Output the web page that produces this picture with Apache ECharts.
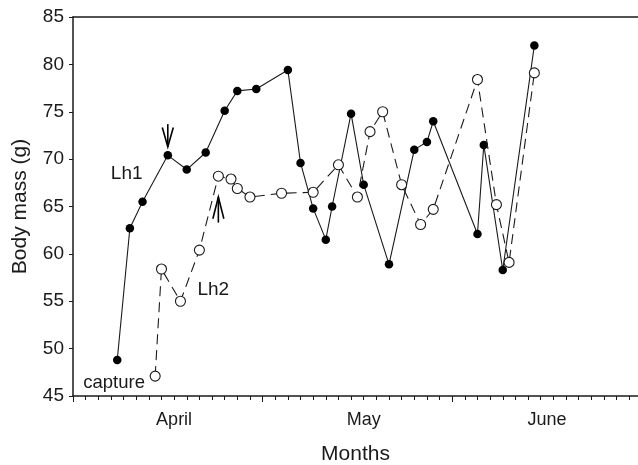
<!DOCTYPE html>
<html>
<head>
<meta charset="utf-8">
<script src="https://cdn.jsdelivr.net/npm/echarts@6/dist/echarts.min.js"></script>
<style>html,body{margin:0;padding:0;background:#fff}#c{width:638px;height:465px}</style>
</head>
<body>
<div id="c"></div>
<script>
// Days since 1 April (30-day month scale)
const lh1Days = [7, 9, 11, 15, 18, 21, 24, 26, 29, 34, 36, 38, 40, 41, 44, 46, 50, 54, 56, 57, 64, 65, 68, 73];
const lh1Mass = [48.8, 62.7, 65.5, 70.4, 68.9, 70.7, 75.1, 77.2, 77.4, 79.4, 69.6, 64.8, 61.5, 65.0, 74.8, 67.3, 58.9, 71.0, 71.8, 74.0, 62.1, 71.5, 58.3, 82.0];
const lh2Days = [13, 14, 17, 20, 23, 25, 26, 28, 33, 38, 42, 45, 47, 49, 52, 55, 57, 64, 67, 69, 73];
const lh2Mass = [47.1, 58.4, 55.0, 60.4, 68.2, 67.9, 66.9, 66.0, 66.4, 66.5, 69.4, 66.0, 72.9, 75.0, 67.3, 63.1, 64.7, 78.4, 65.2, 59.1, 79.1];
const monthLabels = ['April', 'May', 'June'];
const monthLabelDays = [16, 46, 75];
const yTicks = [45, 50, 55, 60, 65, 70, 75, 80, 85];
const annoText = ['Lh1', 'Lh2', 'capture'];
const annoX = [8.5, 22.2, 6.5];
const annoY = [68.5, 56.2, 46.4];
// arrows: x, tip value, tail value
const arrowX = [15, 23];
const arrowTip = [71.3, 66.0];
const arrowTail = [73.7, 63.3];

const FONT = "'Liberation Sans', Arial, Helvetica, sans-serif";
const INK = '#1a1a1a';
const X_MAX = 89.4;

const chart = echarts.init(document.getElementById('c'), null, {renderer: 'canvas'});
const option = {
  animation: false,
  backgroundColor: '#fff',
  grid: {left: 73, right: 0, top: 17, bottom: 69, show: false, containLabel: false, outerBoundsMode: 'none'},
  xAxis: [{
    type: 'value', min: 0, max: X_MAX, interval: 30, position: 'bottom',
    name: 'Months', nameLocation: 'middle', nameGap: 48,
    nameTextStyle: {fontFamily: FONT, fontSize: 21, color: INK},
    axisLine: {lineStyle: {color: INK, width: 1.5}},
    axisTick: {show: true, inside: false, length: 6, lineStyle: {color: INK, width: 1}},
    minorTick: {show: true, splitNumber: 15, length: 4, lineStyle: {color: INK, width: 1}},
    axisLabel: {show: false},
    splitLine: {show: false}, minorSplitLine: {show: false}
  }, {
    type: 'value', min: 0, max: X_MAX, interval: 1, position: 'bottom',
    axisLine: {show: false}, axisTick: {show: false}, splitLine: {show: false},
    axisLabel: {
      show: true, margin: 15, fontFamily: FONT, fontSize: 18, color: INK,
      showMinLabel: true, showMaxLabel: false,
      formatter: function (v) { const i = monthLabelDays.indexOf(Math.round(v)); return i >= 0 ? monthLabels[i] : ''; }
    }
  }, {
    type: 'value', min: 0, max: X_MAX, position: 'top',
    axisLine: {show: true, lineStyle: {color: INK, width: 1.5}},
    axisTick: {show: false}, axisLabel: {show: false}, splitLine: {show: false}
  }],
  yAxis: {
    type: 'value', min: yTicks[0], max: yTicks[yTicks.length - 1], interval: 5,
    name: 'Body mass (g)', nameLocation: 'middle', nameGap: 42,
    nameTextStyle: {fontFamily: FONT, fontSize: 21, color: INK},
    axisLine: {show: true, lineStyle: {color: INK, width: 1.5}},
    axisTick: {show: true, inside: false, length: 4, lineStyle: {color: INK, width: 1}},
    axisLabel: {margin: 9, fontFamily: FONT, fontSize: 19, color: INK},
    splitLine: {show: false}
  },
  series: [{
    name: 'Lh1', type: 'line', xAxisIndex: 0,
    data: lh1Days.map((d, i) => [d, lh1Mass[i]]),
    symbol: 'circle', symbolSize: 8.5, showSymbol: true,
    lineStyle: {color: INK, width: 1.1},
    itemStyle: {color: '#000', borderWidth: 0},
    z: 3
  }, {
    name: 'Lh2', type: 'line', xAxisIndex: 0,
    data: lh2Days.map((d, i) => [d, lh2Mass[i]]),
    symbol: 'circle', symbolSize: 10, showSymbol: true,
    lineStyle: {color: INK, width: 1.1, type: [10, 6]},
    itemStyle: {color: '#fff', borderColor: INK, borderWidth: 1.1},
    z: 4
  }, {
    type: 'custom', xAxisIndex: 0, silent: true, clip: false,
    data: annoText.map((t, i) => [annoX[i], annoY[i], i]),
    renderItem: function (params, api) {
      const p = api.coord([api.value(0), api.value(1)]);
      const txt = annoText[api.value(2)];
      return {type: 'text', style: {x: p[0], y: p[1], text: txt, fill: INK,
        font: (txt === 'capture' ? 18.5 : 19) + "px " + FONT, align: 'center', verticalAlign: 'middle'}};
    },
    z: 5
  }, {
    type: 'custom', xAxisIndex: 0, silent: true, clip: false,
    data: arrowX.map((x, i) => [x, arrowTip[i], arrowTail[i]]),
    renderItem: function (params, api) {
      const tip = api.coord([api.value(0), api.value(1)]);
      const tail = api.coord([api.value(0), api.value(2)]);
      const dir = tail[1] > tip[1] ? 1 : -1;
      const len = Math.abs(tail[1] - tip[1]);
      const arm = len * 0.85;
      const st = {stroke: '#000', lineWidth: 1.6, fill: null};
      return {type: 'group', children: [
        {type: 'line', shape: {x1: tip[0], y1: tip[1], x2: tail[0], y2: tail[1]}, style: st},
        {type: 'polyline', shape: {points: [[tip[0] - 5.5, tip[1] + dir * arm], [tip[0], tip[1]], [tip[0] + 5.5, tip[1] + dir * arm]]}, style: st}
      ]};
    },
    z: 6
  }]
};
chart.setOption(option);
</script>
</body>
</html>
